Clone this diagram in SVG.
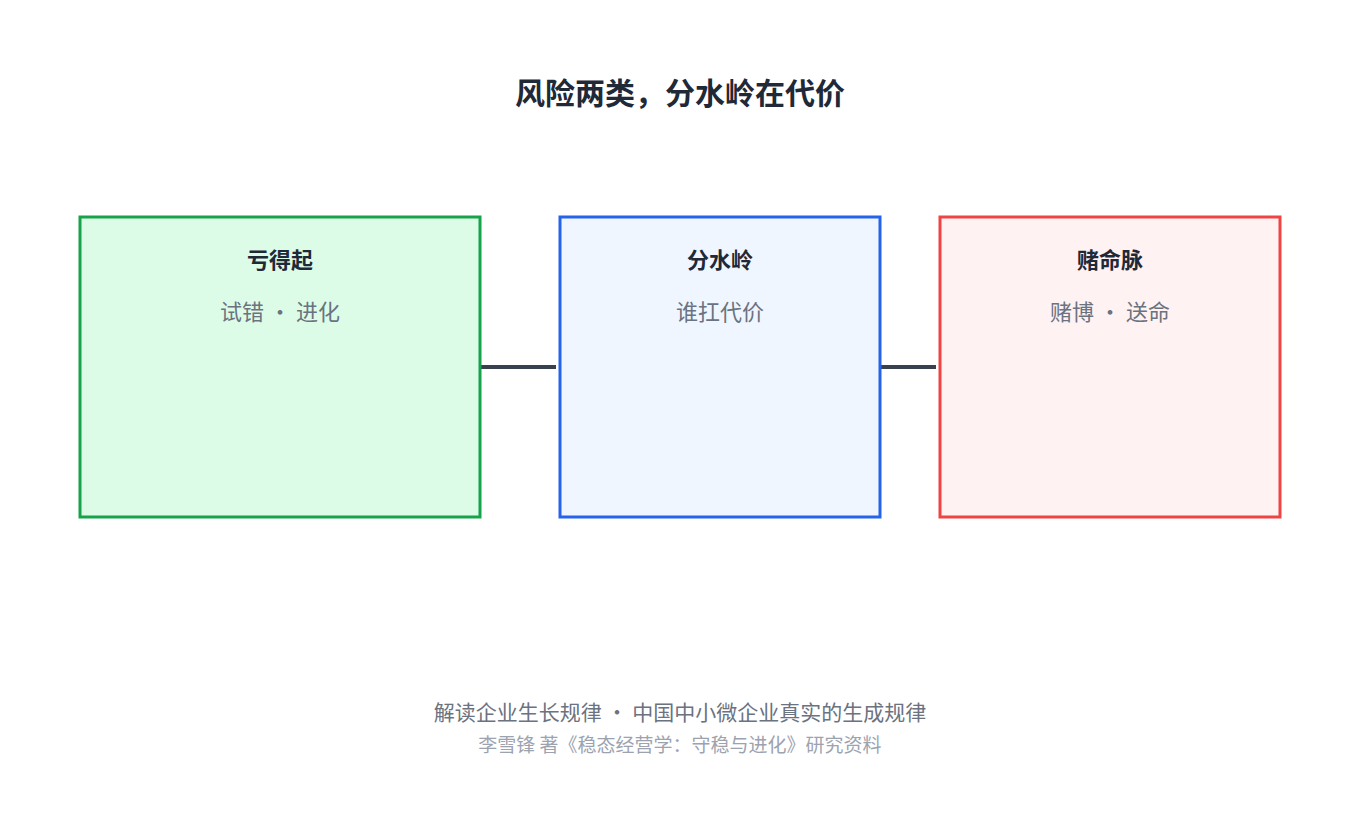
<svg xmlns="http://www.w3.org/2000/svg" width="1360" height="830" viewBox="0 0 1360 830">
<style>
text{font-family:"Noto Sans CJK SC","Noto Sans",sans-serif;text-anchor:middle}
.t{font-size:22px;font-weight:bold;fill:#1f2937}
.s{font-size:22px;fill:#6b7280}
.h{font-size:30px;font-weight:bold;fill:#1f2937}
.f1{font-size:21px;fill:#6b7280}
.f2{font-size:19px;fill:#9ca3af}
rect{stroke-width:3}
</style>
<rect width="1360" height="830" fill="#fff" stroke="none"/>
<text class="h" x="680" y="104">风险两类，分水岭在代价</text>
<g id="connectors" stroke="#374151" stroke-width="4">
<line x1="480" y1="367" x2="556" y2="367"/>
<line x1="880" y1="367" x2="936" y2="367"/>
</g>
<g id="n1"><rect x="80" y="217" width="400" height="300" fill="#dcfce7" stroke="#16a34a"/>
<text class="t" x="280" y="268">亏得起</text><text class="s" x="280" y="320">试错 • 进化</text></g>
<g id="n2"><rect x="560" y="217" width="320" height="300" fill="#eff6ff" stroke="#2563eb"/>
<text class="t" x="720" y="268">分水岭</text><text class="s" x="720" y="320">谁扛代价</text></g>
<g id="n3"><rect x="940" y="217" width="340" height="300" fill="#fef2f2" stroke="#ef4444"/>
<text class="t" x="1110" y="268">赌命脉</text><text class="s" x="1110" y="320">赌博 • 送命</text></g>
<text class="f1" x="680" y="720">解读企业生长规律 • 中国中小微企业真实的生成规律</text>
<text class="f2" x="680" y="752">李雪锋 著《稳态经营学：守稳与进化》研究资料</text>
</svg>
